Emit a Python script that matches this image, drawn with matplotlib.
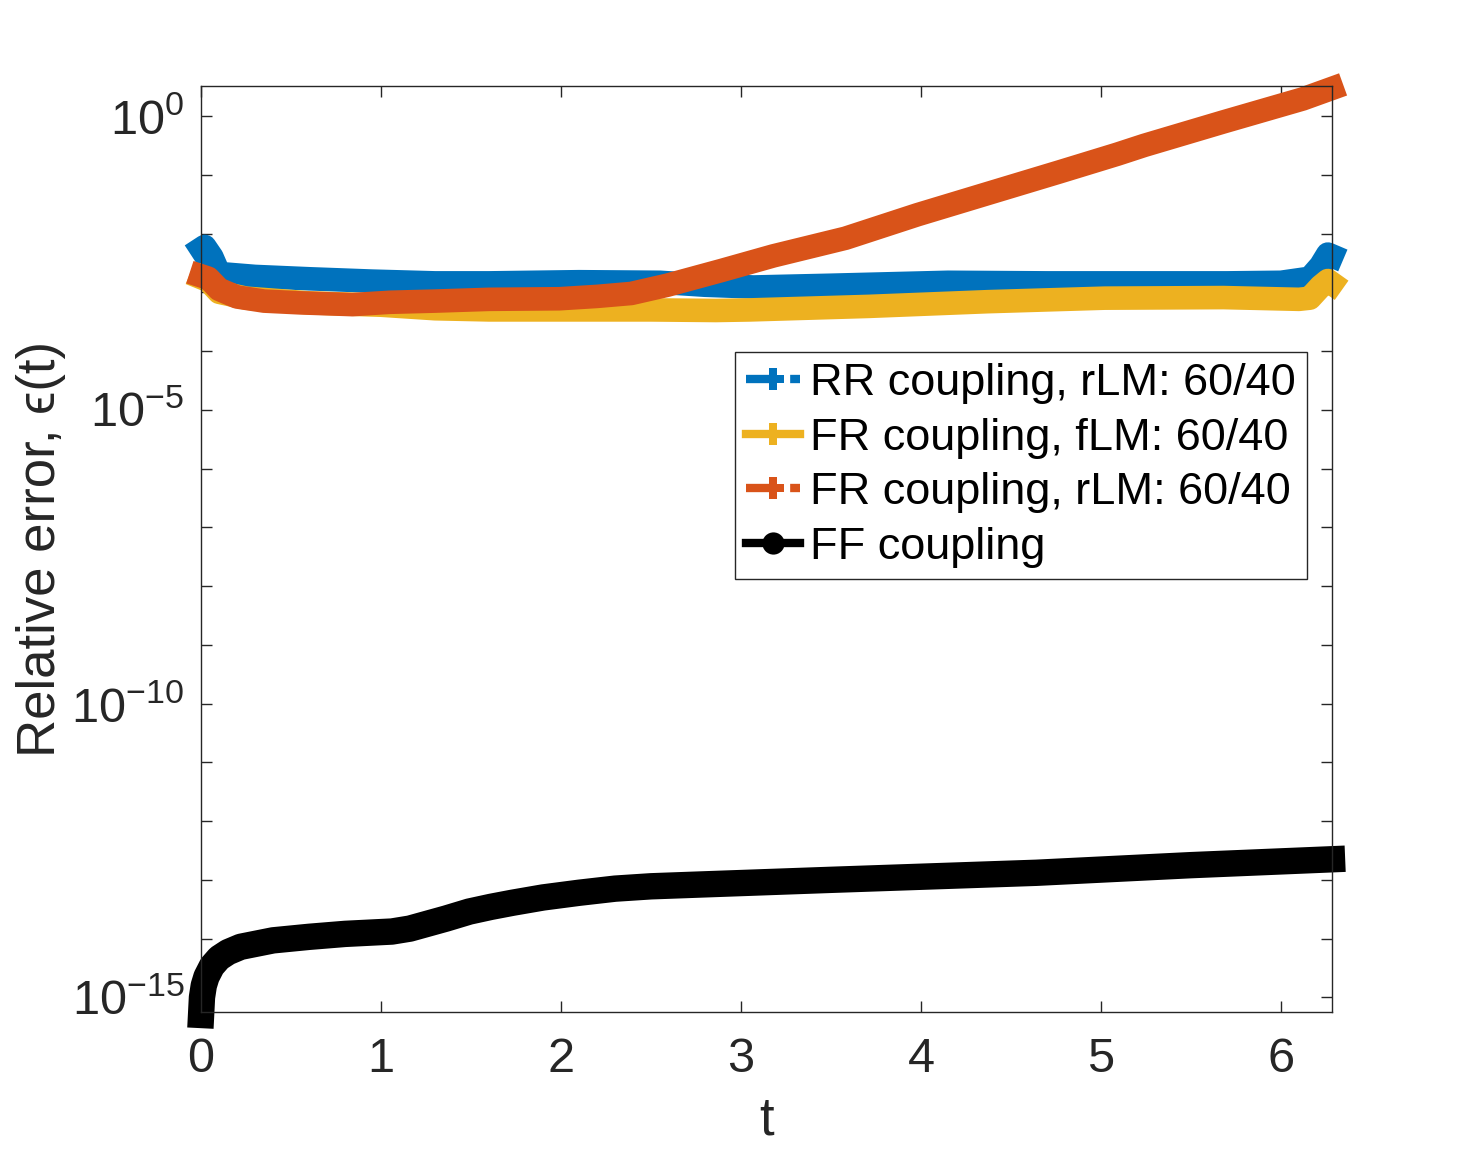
"""Relative error of the coupling schemes over one period."""

import numpy as np
import matplotlib
matplotlib.use("Agg")
import matplotlib.pyplot as plt
from matplotlib.lines import Line2D
from matplotlib.ticker import FixedLocator, FuncFormatter

# values, stored as log10 of the relative error
t_rr = [0, 0.02, 0.06, 0.1, 0.3, 0.6, 0.95, 1.3, 1.6, 2.1, 2.55, 2.8, 3.07, 3.5,
        4.15, 4.7, 5.24, 5.7, 6.0, 6.16, 6.22, 6.26, 6.283]
log_rr = [-2.26, -2.22, -2.40, -2.68, -2.73, -2.77, -2.81, -2.84, -2.84, -2.82, -2.83,
          -2.88, -2.91, -2.88, -2.83, -2.84, -2.84, -2.84, -2.83, -2.76, -2.55, -2.35, -2.38]

t_fr_f = [0, 0.04, 0.1, 0.25, 0.6, 1.0, 1.3, 1.6, 2.0, 2.5, 2.86, 3.05, 3.71, 4.37,
          5.02, 5.68, 6.1, 6.16, 6.22, 6.26, 6.283]
log_fr_f = [-2.75, -2.80, -3.00, -3.10, -3.18, -3.22, -3.28, -3.30, -3.30, -3.30, -3.31,
            -3.30, -3.24, -3.16, -3.10, -3.09, -3.12, -3.10, -2.90, -2.80, -2.85]

t_fr_r = [0, 0.04, 0.1, 0.2, 0.35, 0.55, 0.84, 1.05, 1.3, 1.6, 1.99, 2.2, 2.39, 2.59,
          2.89, 3.18, 3.58, 3.98, 4.38, 4.77, 5.09, 5.24, 5.68, 6.12, 6.283]
log_fr_r = [-2.72, -2.76, -2.95, -3.08, -3.15, -3.18, -3.21, -3.17, -3.15, -3.12, -3.11,
            -3.07, -3.02, -2.88, -2.63, -2.38, -2.08, -1.68, -1.31, -0.95, -0.65, -0.50,
            -0.10, 0.29, 0.47]

t_ff = [0, 0.005, 0.015, 0.03, 0.06, 0.1, 0.15, 0.22, 0.4, 0.6, 0.8, 1.06, 1.16, 1.36,
        1.49, 1.61, 1.73, 1.9, 2.1, 2.3, 2.5, 2.77, 3.5, 4.64, 5.5, 6.283]
log_ff = [-15.30, -15.00, -14.80, -14.65, -14.47, -14.33, -14.23, -14.14, -14.03, -13.97,
          -13.92, -13.88, -13.83, -13.66, -13.54, -13.46, -13.39, -13.30, -13.22, -13.15,
          -13.11, -13.08, -13.00, -12.88, -12.75, -12.65]

labels = ["RR coupling, rLM: 60/40", "FR coupling, fLM: 60/40",
          "FR coupling, rLM: 60/40", "FF coupling"]
colors = ["#0072BD", "#EDB120", "#D95319", "#000000"]
styles = ["--", "-", "--", "-"]
markers = ["P", "P", "P", "o"]

plt.rcParams["font.family"] = ["Liberation Sans", "DejaVu Sans"]
plt.rcParams["mathtext.fontset"] = "dejavusans"
plt.rcParams["axes.unicode_minus"] = False

fig = plt.figure(figsize=(14.72, 11.52), dpi=100)
ax = fig.add_axes([0.1366, 0.1215, 0.7683, 0.8038])

series = [(t_rr, log_rr), (t_fr_f, log_fr_f), (t_fr_r, log_fr_r), (t_ff, log_ff)]
widths = [17, 17, 17, 19]
for (t, lg), c, w in zip(series, colors, widths):
    ax.plot(t, 10.0 ** np.array(lg), color=c, lw=w, solid_capstyle="projecting",
            solid_joinstyle="round", clip_on=False)

ax.set_yscale("log")
ax.set_xlim(0, 2 * np.pi)
ax.set_ylim(10 ** -15.25, 10 ** 0.51)
ax.set_xticks(range(7))
ax.yaxis.set_major_locator(FixedLocator([10.0 ** k for k in range(-15, 1)]))
ax.yaxis.set_minor_locator(FixedLocator([]))


def fmt(v, pos):
    k = int(round(np.log10(v)))
    return f"$\\mathdefault{{10^{{{k}}}}}$" if k % 5 == 0 else ""


ax.yaxis.set_major_formatter(FuncFormatter(fmt))

ax.tick_params(direction="in", length=8, width=1, colors="#262626", labelsize=35,
               top=True, right=True)
ax.tick_params(axis="x", pad=18)
ax.tick_params(axis="y", pad=12)
for s in ax.spines.values():
    s.set_color("#262626")
    s.set_linewidth(1)

ax.set_xlabel("t", fontsize=38, color="#262626", labelpad=10)
ax.set_ylabel("Relative error, \u03f5(t)", fontsize=38, color="#262626", labelpad=4)

handles = [Line2D([], [], color=c, lw=6, ls=ls, marker=m, ms=16, mew=0)
           for c, ls, m in zip(colors, styles, markers)]
leg = ax.legend(handles, labels, loc="upper left", bbox_to_anchor=(0.472, 0.713),
                borderaxespad=0, fontsize=32.5, handlelength=1.2, handletextpad=0.22,
                labelspacing=0.3, borderpad=0.25, fancybox=False, framealpha=1)
leg.get_frame().set_edgecolor("#262626")
leg.get_frame().set_linewidth(1)

fig.savefig("out.png", dpi=100, facecolor="white")
